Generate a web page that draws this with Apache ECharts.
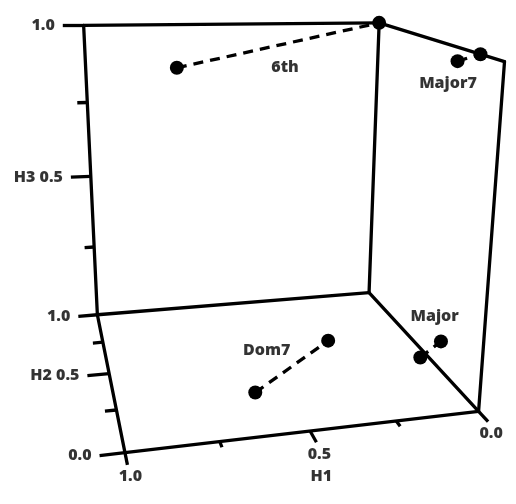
<!DOCTYPE html>
<html>
<head>
<meta charset="utf-8">
<script src="https://cdn.jsdelivr.net/npm/echarts@6/dist/echarts.min.js"></script>
<style>html,body{margin:0;padding:0;background:#fff}#c{width:516px;height:504px}</style>
</head>
<body>
<div id="c"></div>
<script>
// ---- data ----
const chords = ['6th', 'Major7', 'Major', 'Dom7'];
const h1Start = [0.704, 0.00, 0.027, 0.595];
const h2Start = [1.00, 0.302, 0.394, 0.268];
const h3Start = [0.858, 0.961, 0.00, 0.00];
const h1End   = [0.00, 0.00, 0.00, 0.277];
const h2End   = [1.00, 0.15, 0.299, 0.594];
const h3End   = [1.00, 1.00, 0.093, 0.00];

const tickValues = [0, 0.25, 0.5, 0.75, 1];
const h1TickLabels = ['0.0', '', '0.5', '', '1.0'];
const h2TickLabels = ['0.0', '', 'H2 0.5', '', '1.0'];
const h3TickLabels = ['', '', 'H3 0.5', '', '1.0'];
const h1Name = 'H1';

// ---- camera calibration (box corners in screen space, layout) ----
const calib = [
  [1,1,0, 97,313],[1,0,0,126,452],[0,0,0,478,412],[0,1,0,367,292],
  [1,1,1, 83,26],[0,1,1,383,24],[0,0,1,501,59],
  [0.5,0,0,312,432],[0.75,0,0,218,441],[0.25,0,0,398,422],
  [1,0.5,0,110,375],[1,0.25,0,117,410],[1,0.75,0,103,342],
  [1,1,0.5,90,176],[1,1,0.75,87,103],[1,1,0.25,94,247]
];
function fit(cal){
  const N=11, M=[], b=[];
  for(let i=0;i<N;i++){M.push(new Array(N).fill(0)); b.push(0);}
  cal.forEach(([X,Y,Z,u,v])=>{
    const rows=[[[X,Y,Z,1,0,0,0,0,-u*X,-u*Y,-u*Z],u],[[0,0,0,0,X,Y,Z,1,-v*X,-v*Y,-v*Z],v]];
    rows.forEach(([r,rhs])=>{
      for(let i=0;i<N;i++){b[i]+=r[i]*rhs; for(let j=0;j<N;j++) M[i][j]+=r[i]*r[j];}
    });
  });
  for(let c=0;c<N;c++){
    let p=c; for(let r=c+1;r<N;r++) if(Math.abs(M[r][c])>Math.abs(M[p][c])) p=r;
    [M[c],M[p]]=[M[p],M[c]]; [b[c],b[p]]=[b[p],b[c]];
    for(let r=0;r<N;r++){ if(r===c) continue; const f=M[r][c]/M[c][c];
      for(let j=c;j<N;j++) M[r][j]-=f*M[c][j]; b[r]-=f*b[c]; }
  }
  return b.map((x,i)=>x/M[i][i]);
}
const P = fit(calib);
function proj(x,y,z){
  const w=P[8]*x+P[9]*y+P[10]*z+1;
  return [(P[0]*x+P[1]*y+P[2]*z+P[3])/w,(P[4]*x+P[5]*y+P[6]*z+P[7])/w];
}

// ---- box edges ----
const edges = [
  [[1,1,0],[1,1,1]],[[1,1,1],[0,1,1]],[[0,1,1],[0,0,1]],[[0,0,1],[0,0,0]],
  [[0,1,0],[0,1,1]],[[1,1,0],[0,1,0]],[[1,1,0],[1,0,0]],[[1,0,0],[0,0,0]],[[0,1,0],[0,0,0]]
];
const MAJ = 0.065, MIN = 0.032;
const tickSegs = [];
const tickLabelData = [];
const h1LabelData = [];
tickValues.forEach((t,i)=>{
  const len = (i%2===0)?MAJ:MIN;
  tickSegs.push({coords:[proj(t,0,0),proj(t,-len,0)]});
  if(h1TickLabels[i]) h1LabelData.push({name:h1TickLabels[i],value:proj(t,-len,0)});
  tickSegs.push({coords:[proj(1,t,0),proj(1+len,t,0)]});
  if(h2TickLabels[i]) tickLabelData.push({name:h2TickLabels[i],value:proj(1+len,t,0)});
  if(t>0){
    tickSegs.push({coords:[proj(1,1,t),proj(1+len,1,t)]});
    if(h3TickLabels[i]) tickLabelData.push({name:h3TickLabels[i],value:proj(1+len,1,t)});
  }
});

const pts = [], dashSegs = [], chordLabels = [];
const labelOffsets = [[7,22],[-21,26],[4,-33],[-25,-16]];
chords.forEach((c,i)=>{
  const a=proj(h1Start[i],h2Start[i],h3Start[i]);
  const b=proj(h1End[i],h2End[i],h3End[i]);
  pts.push(a,b);
  dashSegs.push({coords:[a,b]});
  chordLabels.push({name:c,value:[(a[0]+b[0])/2,(a[1]+b[1])/2],label:{offset:labelOffsets[i]}});
});

const font = {fontFamily:'"Open Sans", sans-serif', fontWeight:800, fontSize:16, color:'#000'};
const chart = echarts.init(document.getElementById('c'));
chart.setOption({
  animation:false,
  grid:{left:0,right:0,top:0,bottom:0},
  xAxis:{type:'value',min:0,max:516,show:false},
  yAxis:{type:'value',min:0,max:504,inverse:true,show:false},
  series:[
    {type:'lines',coordinateSystem:'cartesian2d',data:edges.map(e=>({coords:[proj(...e[0]),proj(...e[1])]})),
     lineStyle:{color:'#000',width:3.3,opacity:1,cap:'round',join:'round'},silent:true,z:2},
    {type:'lines',coordinateSystem:'cartesian2d',data:tickSegs,
     lineStyle:{color:'#000',width:3.3,opacity:1},silent:true,z:2},
    {type:'lines',coordinateSystem:'cartesian2d',data:dashSegs,
     lineStyle:{color:'#000',width:3.3,opacity:1,type:[10,7]},silent:true,z:3},
    {type:'scatter',data:pts,symbol:'circle',symbolSize:14,itemStyle:{color:'#000',opacity:1},z:4},
    {type:'scatter',data:tickLabelData,symbolSize:0,z:5,
     label:{show:true,position:'left',distance:8,formatter:'{b}',...font}},
    {type:'scatter',data:h1LabelData,symbolSize:0,z:5,
     label:{show:true,position:'bottom',distance:4,offset:[3,0],formatter:'{b}',...font}},
    {type:'scatter',data:[{name:h1Name,value:proj(0.5,-MAJ,0)}],symbolSize:0,z:5,
     label:{show:true,position:'bottom',distance:4,offset:[5,22],formatter:'{b}',...font}},
    {type:'scatter',data:chordLabels,symbolSize:0,z:5,
     label:{show:true,position:'inside',formatter:'{b}',...font}}
  ]
});
</script>
</body>
</html>
